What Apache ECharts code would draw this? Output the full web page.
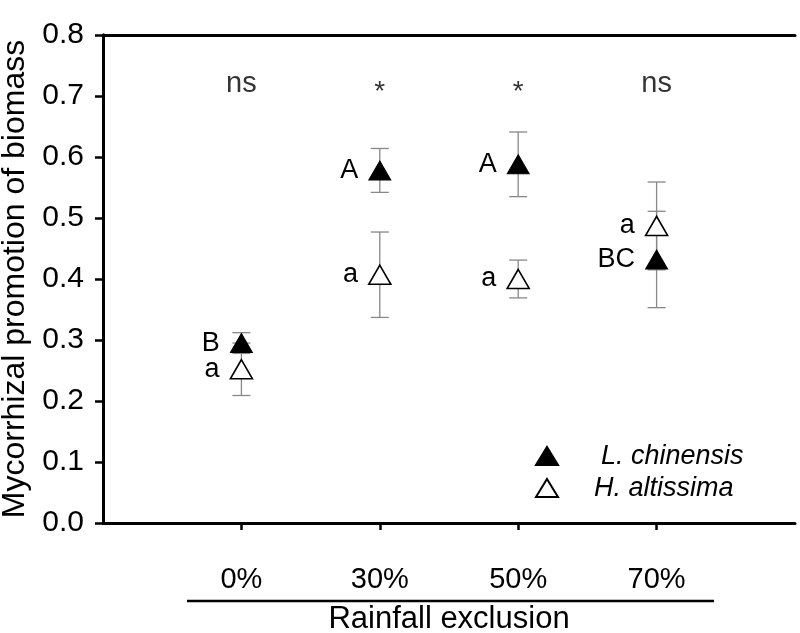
<!DOCTYPE html>
<html>
<head>
<meta charset="utf-8">
<script src="https://cdn.jsdelivr.net/npm/echarts@6/dist/echarts.min.js"></script>
<style>html,body{margin:0;padding:0;background:#fff;}#c{width:800px;height:633px;}</style>
</head>
<body>
<div id="c"></div>
<script>
// ---- data ----
var categories = ['0%', '30%', '50%', '70%'];
var lcMean = [0.295, 0.578, 0.588, 0.432];
var lcErr  = [0.017, 0.036, 0.053, 0.079];
var haMean = [0.252, 0.407, 0.400, 0.487];
var haErr  = [0.043, 0.070, 0.031, 0.072];
var lcLetters = ['B', 'A', 'A', 'BC'];
var haLetters = ['a', 'a', 'a', 'a'];
var sigLabels = ['ns', '*', '*', 'ns'];
var sigLevel = 0.72;
var yTicks = [0, 0.1, 0.2, 0.3, 0.4, 0.5, 0.6, 0.7, 0.8];

var FONT = "'Liberation Sans', Arial, sans-serif";
var xPos = categories.map(function (c, i) { return i + 1; });

function pts(means, letters) {
  return means.map(function (m, i) { return { value: [xPos[i], m], letter: letters[i] }; });
}
function errData(means, errs) {
  return means.map(function (m, i) { return [xPos[i], m - errs[i], m + errs[i]]; });
}
function errRender(params, api) {
  var x = api.value(0), lo = api.value(1), hi = api.value(2);
  var pLo = api.coord([x, lo]), pHi = api.coord([x, hi]);
  var w = 9;
  var st = { stroke: '#888', lineWidth: 1.3 };
  return {
    type: 'group',
    children: [
      { type: 'line', shape: { x1: pLo[0], y1: pLo[1], x2: pHi[0], y2: pHi[1] }, style: st },
      { type: 'line', shape: { x1: pLo[0] - w, y1: pLo[1], x2: pLo[0] + w, y2: pLo[1] }, style: st },
      { type: 'line', shape: { x1: pHi[0] - w, y1: pHi[1], x2: pHi[0] + w, y2: pHi[1] }, style: st }
    ]
  };
}

var chart = echarts.init(document.getElementById('c'), null, { renderer: 'canvas' });
var letterLabel = {
  show: true, position: 'left', distance: 10,
  formatter: function (p) { return p.data.letter; },
  color: '#000', fontSize: 27, fontFamily: FONT
};

chart.setOption({
  animation: false,
  backgroundColor: '#fff',
  grid: { left: 103, right: 5, top: 35, bottom: 110, outerBoundsMode: 'none', containLabel: false },
  xAxis: [
    { type: 'value', min: 0, max: 5, interval: 1, position: 'bottom',
      axisLine: { show: true, lineStyle: { color: '#000', width: 3 } },
      axisTick: { show: false }, axisLabel: { show: false }, splitLine: { show: false } },
    { type: 'value', min: 0, max: 5, interval: 1, position: 'bottom', offset: 4,
      axisLine: { show: false },
      axisTick: { show: true, length: 7, customValues: xPos, lineStyle: { color: '#000', width: 2.5 } },
      axisLabel: { show: true, customValues: xPos, margin: 38, fontSize: 29, color: '#000', fontFamily: FONT,
        formatter: function (v) { return categories[Math.round(v) - 1] || ''; } },
      splitLine: { show: false },
      name: 'Rainfall exclusion', nameLocation: 'middle', nameGap: 77,
      nameTextStyle: { fontSize: 31, color: '#000', fontFamily: FONT } },
    { type: 'value', min: 0, max: 5, position: 'top',
      axisLine: { show: true, lineStyle: { color: '#000', width: 3 } },
      axisTick: { show: false }, axisLabel: { show: false }, splitLine: { show: false } }
  ],
  yAxis: [
    { type: 'value', min: 0, max: 0.8, interval: 0.1, position: 'left',
      axisLine: { show: true, lineStyle: { color: '#000', width: 3 } },
      axisTick: { show: true, inside: false, length: 8, lineStyle: { color: '#000', width: 2.5 } },
      axisLabel: { margin: 19, fontSize: 30, color: '#000', fontFamily: FONT,
        customValues: yTicks,
        formatter: function (v) { return v.toFixed(1); } },
      splitLine: { show: false },
      name: 'Mycorrhizal promotion of biomass', nameLocation: 'middle', nameGap: 61,
      nameTextStyle: { fontSize: 32, color: '#000', fontFamily: FONT } },
    { type: 'value', min: 0, max: 0.8, position: 'right',
      axisLine: { show: true, lineStyle: { color: '#000', width: 3 } },
      axisTick: { show: false }, axisLabel: { show: false }, splitLine: { show: false } }
  ],
  legend: {
    orient: 'vertical', left: 530, top: 437,
    itemWidth: 22, itemHeight: 18, itemGap: 4,
    icon: 'triangle',
    textStyle: { fontSize: 27, fontStyle: 'italic', color: '#000', fontFamily: FONT, lineHeight: 28 },
    data: [
      { name: 'L. chinensis', textStyle: { padding: [0, 0, 0, 38] } },
      { name: 'H. altissima', textStyle: { padding: [0, 0, 0, 31] } }
    ]
  },
  series: [
    { name: 'errLC', type: 'custom', xAxisIndex: 0, yAxisIndex: 0, renderItem: errRender,
      data: errData(lcMean, lcErr), z: 1, silent: true },
    { name: 'errHA', type: 'custom', xAxisIndex: 0, yAxisIndex: 0, renderItem: errRender,
      data: errData(haMean, haErr), z: 1, silent: true },
    { name: 'H. altissima', type: 'scatter', symbol: 'triangle', symbolSize: [22, 19], z: 3,
      itemStyle: { color: '#fff', borderColor: '#000', borderWidth: 1.6, opacity: 1 },
      label: letterLabel, data: pts(haMean, haLetters) },
    { name: 'L. chinensis', type: 'scatter', symbol: 'triangle', symbolSize: [22, 19], z: 4,
      itemStyle: { color: '#000', borderColor: '#000', borderWidth: 1, opacity: 1 },
      label: letterLabel, data: pts(lcMean, lcLetters) },
    { name: 'sig', type: 'scatter', symbolSize: 0, z: 5, silent: true,
      label: { show: true, position: 'inside', color: '#000', fontSize: 29, fontFamily: FONT,
        formatter: function (p) { return p.data.txt; } },
      data: sigLabels.map(function (s, i) {
        return { value: [xPos[i], sigLevel], txt: s,
          label: s === '*' ? { offset: [0, 8], fontSize: 28 } : {} };
      }) }
  ],
  graphic: [
    { type: 'line', shape: { x1: 187, y1: 601, x2: 714, y2: 601 },
      style: { stroke: '#000', lineWidth: 2.5 }, silent: true }
  ]
});
</script>
</body>
</html>
